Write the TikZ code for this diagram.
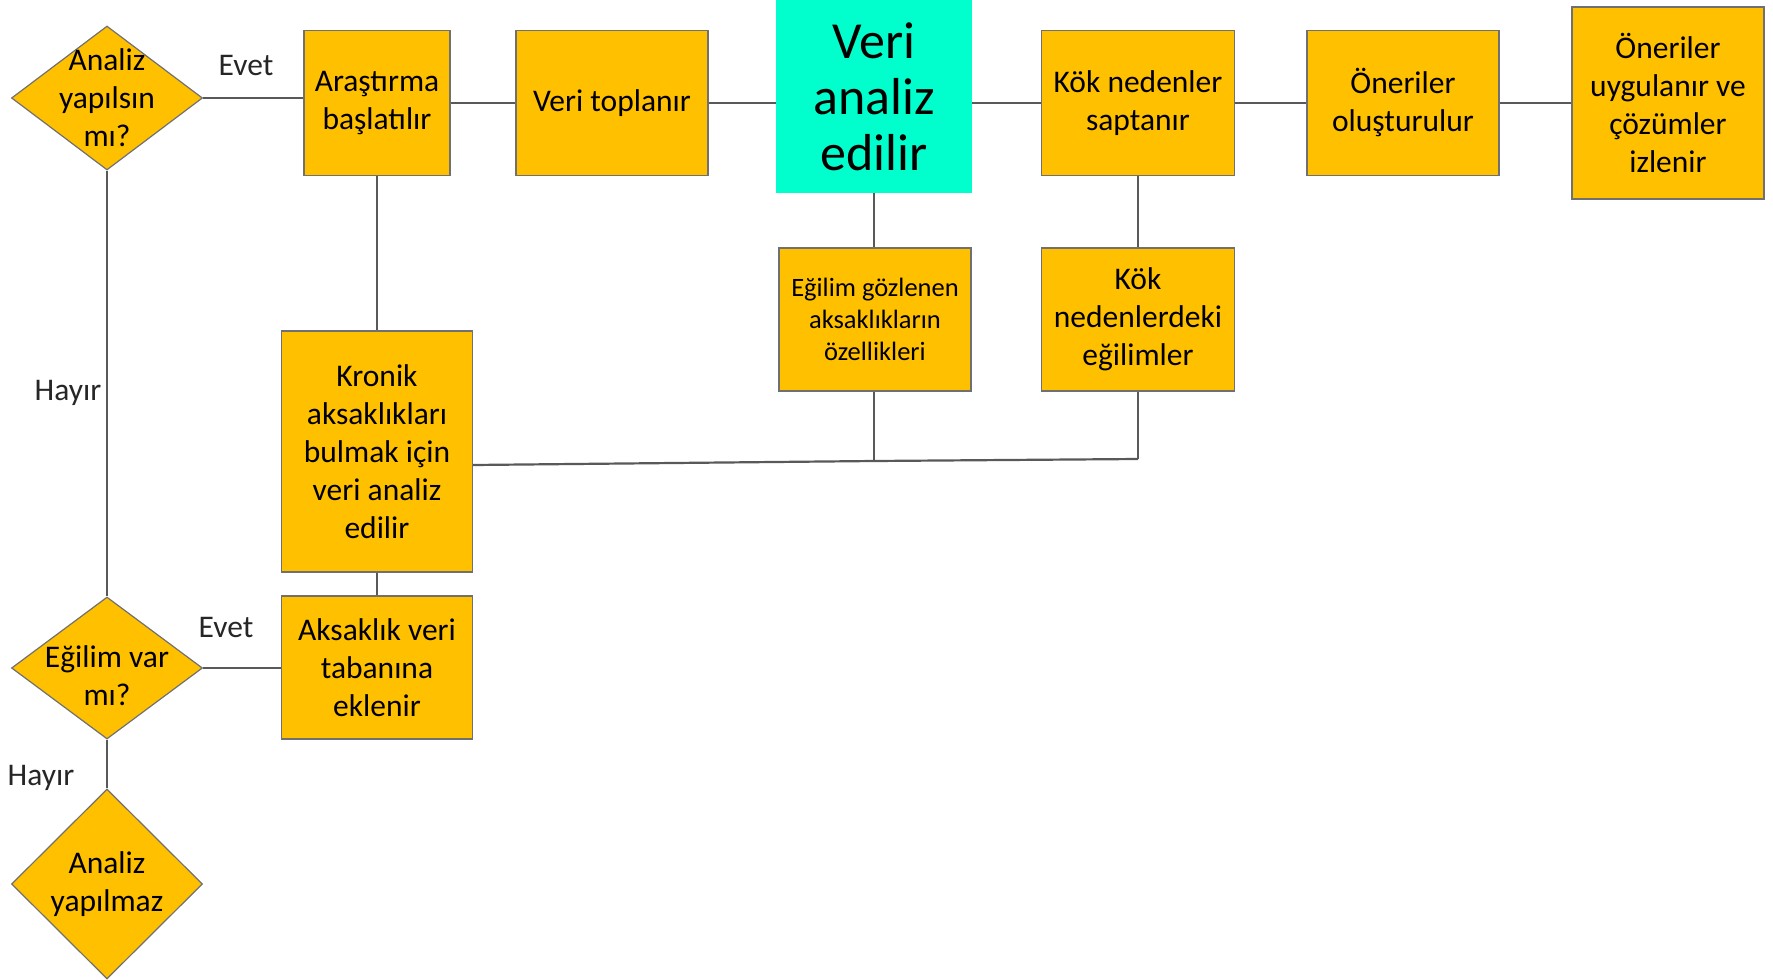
\documentclass[tikz,border=0pt]{standalone}
\usepackage{fontspec}
\setmainfont{Carlito}
\usepackage{xcolor}
\usepackage{tikz}
\usetikzlibrary{shapes.geometric}

\definecolor{boxfill}{HTML}{FFC000}
\definecolor{boxedge}{HTML}{707070}
\definecolor{veriteal}{HTML}{00FFCC}
\definecolor{linegray}{HTML}{595959}

\begin{document}
\begin{tikzpicture}[
    x=1pt, y=-1pt,
    every node/.style={font=\fontsize{31.5}{38}\selectfont, align=center, inner sep=0pt, text=black},
    proc/.style args={#1/#2}{draw=boxedge, line width=1.2pt, fill=boxfill, minimum width=#1, minimum height=#2},
    dec/.style args={#1/#2}{diamond, draw=boxedge, line width=1.2pt, fill=boxfill, minimum width=#1, minimum height=#2},
    conn/.style={draw=linegray, line width=2.2pt},
    lbl/.style={text=black!85},
  ]
  \useasboundingbox (0,0) rectangle (1773,980);
  % upper row
  \node[dec=191/144] (q1) at (107,98) {};
  \node (q1t) at (q1) {Analiz\\yapılsın\\mı?};
  \node[proc=146/145] (arast) at (377,103) {Araştırma\\başlatılır};
  \node[proc=192/145] (topla) at (612,103) {Veri toplanır};
  \node[fill=veriteal, minimum width=196, minimum height=193,
        font=\fontsize{52}{56}\selectfont] (veri) at (874,96.5) {Veri\\analiz\\edilir};
  \node[proc=193/145] (kok) at (1138,103) {Kök nedenler\\saptanır};
  \node[proc=192/145] (oner) at (1403,103) {Öneriler\\oluşturulur};
  \node[proc=192/192] (uyg) at (1668,103) {Öneriler\\uygulanır ve\\çözümler\\izlenir};
  % second row
  \node[proc=192/143, font=\fontsize{26.5}{31.7}\selectfont] (egil) at (875,319.5) {Eğilim gözlenen\\aksaklıkların\\özellikleri};
  \node[proc=193/143] (kokeg) at (1138,319.5) {Kök\\nedenlerdeki\\eğilimler};
  \node[proc=191/241] (kron) at (377,451.5) {Kronik\\aksaklıkları\\bulmak için\\veri analiz\\edilir};
  \node[proc=191/143] (aksak) at (377,667.5) {Aksaklık veri\\tabanına\\eklenir};
  % lower decisions
  \node[dec=191/142] (q2) at (107,668) {};
  \node (q2t) at (107,676) {Eğilim var\\mı?};
  \node[dec=191/190] (q3) at (107,884) {};
  \node (q3t) at (q3) {Analiz\\yapılmaz};
  % labels
  \node[lbl] (evet1) at (246,66) {Evet};
  \node[lbl] (hayir1) at (68,393) {Hayır};
  \node[lbl] (evet2) at (226,628) {Evet};
  \node[lbl] (hayir2) at (41,778) {Hayır};
  % connectors
  \draw[conn] (q1.east) -- (q1.east -| arast.west);
  \foreach \a/\b in {arast/topla, topla/veri, veri/kok, kok/oner, oner/uyg}
    \draw[conn] (\a.east |- arast.east) -- (\b.west |- arast.east);
  \draw[conn] (arast.south) -- (kron.north);
  \draw[conn] (veri.south) -- (veri.south |- egil.north);
  \draw[conn] (kok.south) -- (kokeg.north);
  \draw[conn] (kron.south) -- (aksak.north);
  \draw[conn] (q1.south) -- (q2.north);
  \draw[conn] (q2.south) -- (q3.north);
  \draw[conn] (q2.east) -- (q2.east -| aksak.west);
  \coordinate (j0) at (0,465);
  \coordinate (j1) at (874,461);
  \coordinate (j2) at (1138,459);
  \draw[conn] (egil.south -| j1) -- (j1);
  \draw[conn] (kokeg.south) -- (j2);
  \draw[conn] (kron.east |- j0) -- (j1) -- (j2);
\end{tikzpicture}
\end{document}
